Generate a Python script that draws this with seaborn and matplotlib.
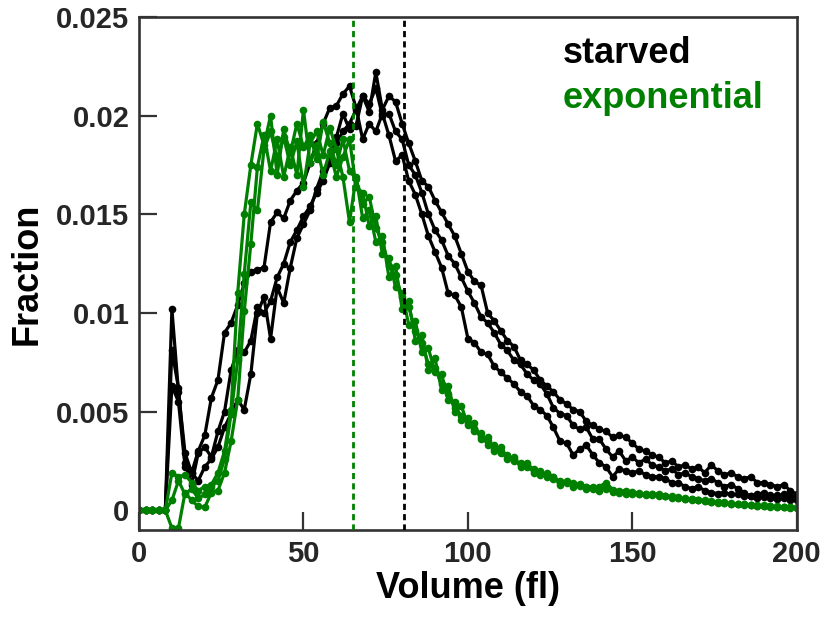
import matplotlib
matplotlib.use("Agg")
import matplotlib.pyplot as plt
import seaborn as sns
import pandas as pd

# ---------------- data (Fraction values in units of 1e-3) ----------------
volume_fl = list(range(0, 202, 2))

starved_a = [0, 0, 0, 0, 0, 10.2, 6.0, 2.9, 1.9, 3.0,
             3.8, 5.7, 6.6, 9.0, 9.5, 10.4, 11.5, 12.1, 12.2, 12.3,
             14.6, 15.1, 14.8, 15.7, 16.2, 16.6, 17.6, 18.6, 19.6, 20.4,
             20.5, 21.1, 21.5, 20.4, 18.8, 19.6, 19.2, 20.1, 19.0, 17.7,
             18.0, 16.7, 16.0, 15.0, 13.9, 13.1, 12.3, 11.0, 10.9, 10.3,
             8.7, 8.5, 8.0, 7.9, 7.3, 7.0, 6.7, 6.4, 6.0, 5.8,
             5.3, 5.1, 4.8, 4.2, 3.5, 3.4, 2.8, 3.1, 3.3, 2.8,
             2.4, 2.2, 1.7, 2.1, 2.0, 1.9, 2.0, 1.8, 1.7, 1.7,
             1.6, 1.4, 1.4, 1.2, 1.1, 1.2, 1.0, 0.9, 0.85, 0.9,
             0.8, 0.8, 0.7, 0.7, 0.6, 0.65, 0.6, 0.55, 0.6, 0.5,
             0.5]
starved_b = [0, 0, 0, 0, 0, 8.1, 6.2, 2.4, 1.3, 2.9,
             3.2, 2.7, 4.0, 5.0, 7.1, 8.1, 8.0, 8.6, 10.3, 10.0,
             10.6, 11.8, 12.5, 13.6, 14.2, 14.9, 15.4, 16.1, 16.7, 17.6,
             18.6, 19.2, 19.6, 20.3, 21.0, 20.2, 22.2, 20.3, 21.0, 20.7,
             19.6, 18.6, 17.7, 16.7, 16.4, 15.7, 15.1, 14.5, 13.9, 13.0,
             12.1, 11.6, 11.4, 10.0, 9.6, 9.1, 8.6, 8.3, 7.6, 7.4,
             7.1, 6.6, 6.3, 6.0, 5.6, 5.4, 5.1, 5.0, 4.5, 4.3,
             4.1, 4.0, 3.7, 3.8, 3.7, 3.4, 3.1, 3.0, 2.8, 2.7,
             2.4, 2.5, 2.2, 2.3, 2.1, 2.2, 1.9, 2.3, 2.0, 1.8,
             1.9, 1.7, 1.6, 1.7, 1.4, 1.4, 1.3, 1.2, 1.3, 1.0,
             0.8]
starved_c = [0, 0, 0, 0, 0, 6.3, 5.5, 2.2, 1.9, 1.5,
             2.2, 2.6, 3.2, 4.2, 4.9, 5.6, 5.1, 6.9, 10.0, 10.8,
             8.7, 11.3, 10.5, 12.3, 13.8, 14.5, 15.2, 16.3, 17.2, 17.8,
             18.9, 20.1, 19.3, 19.5, 21.0, 20.6, 21.4, 20.0, 20.1, 19.2,
             18.8, 17.5, 17.0, 16.1, 15.0, 14.2, 13.7, 12.9, 12.5, 11.8,
             11.1, 10.5, 9.8, 9.5, 9.0, 8.4, 8.1, 7.6, 7.4, 6.9,
             6.6, 6.4, 5.9, 5.2, 4.9, 4.8, 4.3, 4.1, 4.2, 3.6,
             3.6, 3.1, 2.7, 3.0, 2.5, 2.7, 2.4, 2.6, 2.3, 2.2,
             2.0, 2.1, 1.8, 1.9, 1.7, 1.6, 1.5, 1.6, 1.4, 1.2,
             1.3, 1.1, 0.9, 0.7, 0.8, 0.9, 0.75, 0.75, 0.8, 0.7,
             0.7]

exponential_a = [0, 0, 0, 0, 0, 1.9, 1.7, 1.8, 1.4, 1.0,
                 1.2, 1.3, 1.9, 3.0, 5.1, 11.0, 15.0, 17.5, 19.6, 18.5,
                 20.0, 17.0, 19.3, 18.1, 19.6, 18.4, 19.0, 17.8, 19.7, 18.6,
                 17.5, 18.8, 17.2, 16.8, 15.5, 15.9, 14.3, 13.6, 12.4, 11.9,
                 10.8, 10.3, 9.1, 8.5, 7.4, 7.2, 6.4, 5.9, 5.2, 4.8,
                 4.4, 4.1, 3.7, 3.5, 3.1, 3.0, 2.8, 2.5, 2.4, 2.2,
                 2.0, 1.9, 1.8, 1.6, 1.5, 1.4, 1.4, 1.3, 1.2, 1.2,
                 1.1, 1.2, 1.0, 1.0, 0.9, 0.9, 0.85, 0.8, 0.8, 0.75,
                 0.7, 0.7, 0.6, 0.6, 0.55, 0.5, 0.45, 0.45, 0.4, 0.35,
                 0.35, 0.3, 0.3, 0.25, 0.25, 0.2, 0.2, 0.2, 0.15, 0.15,
                 0.15]
exponential_b = [0, 0, 0, 0, 0, -0.9, -0.9, 0.9, 0.5, 0.2,
                 0.15, 0.9, 1.0, 1.9, 3.5, 5.6, 10.1, 13.5, 17.4, 19.0,
                 17.2, 18.8, 16.9, 18.4, 17.0, 20.3, 17.6, 18.5, 17.0, 18.2,
                 16.9, 17.9, 18.8, 16.4, 16.1, 14.4, 14.9, 13.0, 12.8, 11.3,
                 11.0, 9.4, 9.6, 8.0, 8.2, 7.0, 6.9, 5.6, 5.5, 4.6,
                 4.7, 4.0, 3.9, 3.3, 3.3, 2.9, 2.7, 2.6, 2.3, 2.3,
                 2.1, 1.8, 1.9, 1.7, 1.4, 1.5, 1.3, 1.35, 1.2, 1.1,
                 1.2, 1.4, 1.05, 0.95, 1.0, 0.85, 0.9, 0.8, 0.75, 0.85,
                 0.7, 0.65, 0.65, 0.55, 0.55, 0.5, 0.5, 0.4, 0.4, 0.4,
                 0.3, 0.3, 0.3, 0.25, 0.2, 0.25, 0.2, 0.15, 0.15, 0.15,
                 0.1]
exponential_c = [0, 0, 0, 0, 0, 0.5, 1.5, 0.8, 1.1, 0.6,
                 0.8, 1.2, 1.5, 2.6, 4.9, 7.6, 12.0, 15.6, 15.2, 18.3,
                 19.2, 17.8, 18.9, 17.5, 18.7, 16.4, 18.6, 19.2, 18.0, 19.4,
                 18.3, 16.9, 14.6, 16.9, 14.8, 15.2, 13.6, 13.9, 11.8, 12.4,
                 10.2, 10.6, 8.6, 8.9, 7.1, 7.7, 6.1, 6.3, 5.0, 5.3,
                 4.3, 4.4, 3.6, 3.7, 3.0, 3.2, 2.6, 2.7, 2.2, 2.4,
                 1.9, 2.0, 1.7, 1.7, 1.3, 1.45, 1.2, 1.25, 1.1, 1.15,
                 1.0, 1.1, 0.95, 0.9, 0.85, 0.95, 0.8, 0.75, 0.85, 0.7,
                 0.7, 0.6, 0.6, 0.55, 0.5, 0.5, 0.45, 0.4, 0.35, 0.35,
                 0.3, 0.3, 0.25, 0.25, 0.2, 0.2, 0.15, 0.15, 0.15, 0.1,
                 0.1]

mean_volume = {"starved": 80.5, "exponential": 65.0}
conditions = ["starved", "exponential"]
colors = {"starved": "black", "exponential": "#008000"}
xticks = [0, 50, 100, 150, 200]
yticks = [0, 0.005, 0.01, 0.015, 0.02, 0.025]
ytick_labels = ["0", "0.005", "0.01", "0.015", "0.02", "0.025"]

# ---------------- build long table ----------------
series = {
    ("starved", "a"): starved_a, ("starved", "b"): starved_b, ("starved", "c"): starved_c,
    ("exponential", "a"): exponential_a, ("exponential", "b"): exponential_b,
    ("exponential", "c"): exponential_c,
}
rows = []
for (cond, rep), vals in series.items():
    for v, f in zip(volume_fl, vals):
        rows.append({"condition": cond, "replicate": rep, "Volume": v, "Fraction": f * 1e-3})
df = pd.DataFrame(rows)

# ---------------- plot ----------------
sns.set_theme(style="ticks")
plt.rcParams["font.family"] = ["Liberation Sans", "DejaVu Sans"]
plt.rcParams["font.weight"] = "bold"

fig = plt.figure(figsize=(8.24, 6.17), dpi=100)
ax = fig.add_axes([0.1687, 0.141, 0.7983, 0.8314])

sns.lineplot(data=df, x="Volume", y="Fraction", hue="condition", hue_order=conditions,
             units="replicate", estimator=None, palette=colors, marker="o",
             markersize=5.5, markeredgewidth=0, linewidth=2.3, sort=False,
             legend=False, ax=ax)

for cond in conditions:
    ax.axvline(mean_volume[cond], color=colors[cond], linewidth=2.0,
               linestyle=(0, (2.2, 1.5)), zorder=4)

ax.set_xlim(0, 200)
ax.set_ylim(-0.001, 0.025)
ax.set_xticks(xticks)
ax.set_xticklabels([str(t) for t in xticks])
ax.set_yticks(yticks)
ax.set_yticklabels(ytick_labels)

spine_col = "#333333"
for s in ax.spines.values():
    s.set_visible(True)
    s.set_linewidth(1.9)
    s.set_color(spine_col)
ax.tick_params(direction="in", length=13, width=1.6, color=spine_col,
               labelsize=21, labelcolor="#262626", pad=7)
for lab in ax.get_xticklabels() + ax.get_yticklabels():
    lab.set_fontweight("bold")

ax.set_xlabel("Volume (fl)", fontsize=26, fontweight="bold", color="black", labelpad=2)
ax.set_ylabel("Fraction", fontsize=26, fontweight="bold", color="black", labelpad=8)

ax.text(0.644, 0.910, "starved", transform=ax.transAxes, fontsize=26,
        fontweight="bold", color=colors["starved"], ha="left", va="baseline")
ax.text(0.644, 0.822, "exponential", transform=ax.transAxes, fontsize=26,
        fontweight="bold", color=colors["exponential"], ha="left", va="baseline")

fig.savefig("out.png", dpi=100)
